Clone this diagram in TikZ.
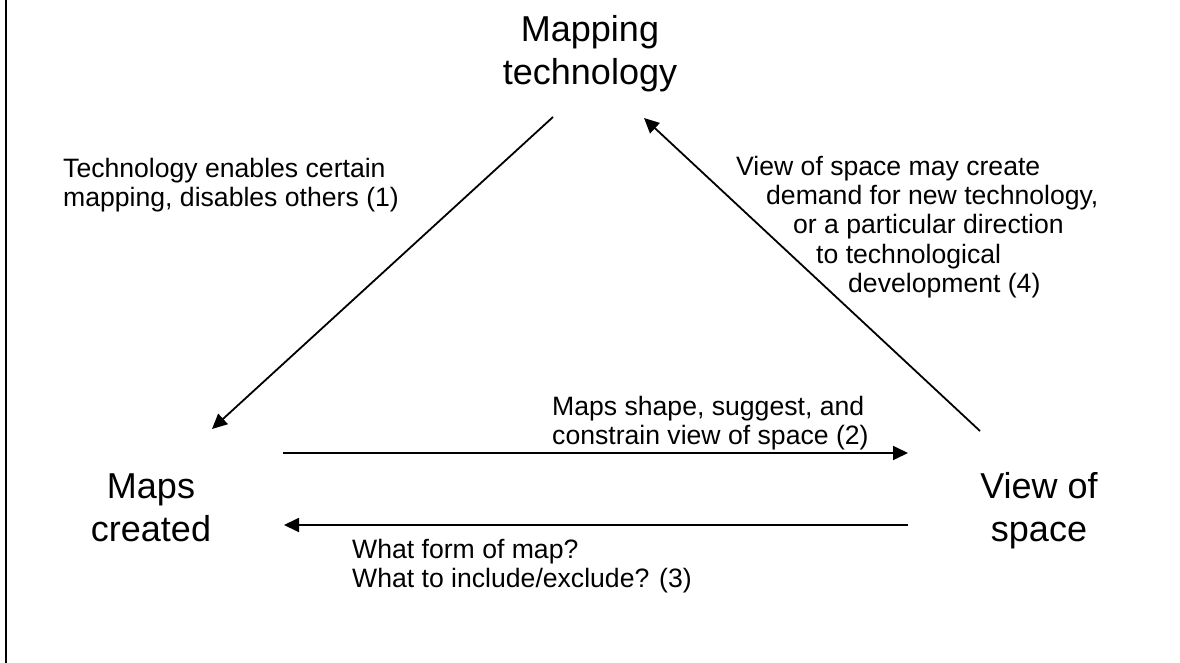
\documentclass[tikz,border=0pt]{standalone}
\usepackage{fontspec}
\setmainfont{Liberation Sans}
\usetikzlibrary{arrows.meta}
\begin{document}
\begin{tikzpicture}[x=1bp,y=-1bp,
  big/.style={font=\fontsize{36bp}{43bp}\selectfont, align=center, inner sep=0pt, anchor=base},
  note/.style={font=\fontsize{26.6bp}{29bp}\selectfont, align=left, inner sep=0pt, anchor=base west},
  link/.style={line width=1.8bp, -{Triangle[length=15bp,width=14bp]}}]
\useasboundingbox (0,0) rectangle (1180,663);
% frame line on the left edge
\draw[line width=2bp] (5.5,0) -- (5.5,663);

% the three corners of the cycle (placed by the baseline of their last line)
\node[big] (tech) at (590,85) {Mapping\\technology};
\node[big] (maps) at (151,541) {Maps\\created};
\node[big] (view) at (1039,541) {View of\\space};

% connector end points
\coordinate (t1) at (553,117);
\coordinate (m1) at (212,429);
\coordinate (m2) at (283,453);
\coordinate (v2) at (908,453);
\coordinate (v3) at (908,525);
\coordinate (m3) at (284,525);
\coordinate (v4) at (980,431);
\coordinate (t4) at (644,118);

\draw[link] (t1) -- (m1);
\draw[link] (m2) -- (v2);
\draw[link] (v3) -- (m3);
\draw[link] (v4) -- (t4);

% explanations (placed by the baseline of their last line)
\node[note] (n1) at (63,207) {Technology enables certain\\mapping, disables others (1)};
\node[note] (n2) at (552,444) {Maps shape, suggest, and\\constrain view of space (2)};
\node[note] (n3) at (352,587) {What form of map?\\What to include/exclude? (3)};
\node[note] (n4) at (736,292) {View of space may create\\
  \hspace*{30bp}demand for new technology,\\
  \hspace*{57bp}or a particular direction\\
  \hspace*{80bp}to technological\\
  \hspace*{112bp}development (4)};
\end{tikzpicture}
\end{document}
